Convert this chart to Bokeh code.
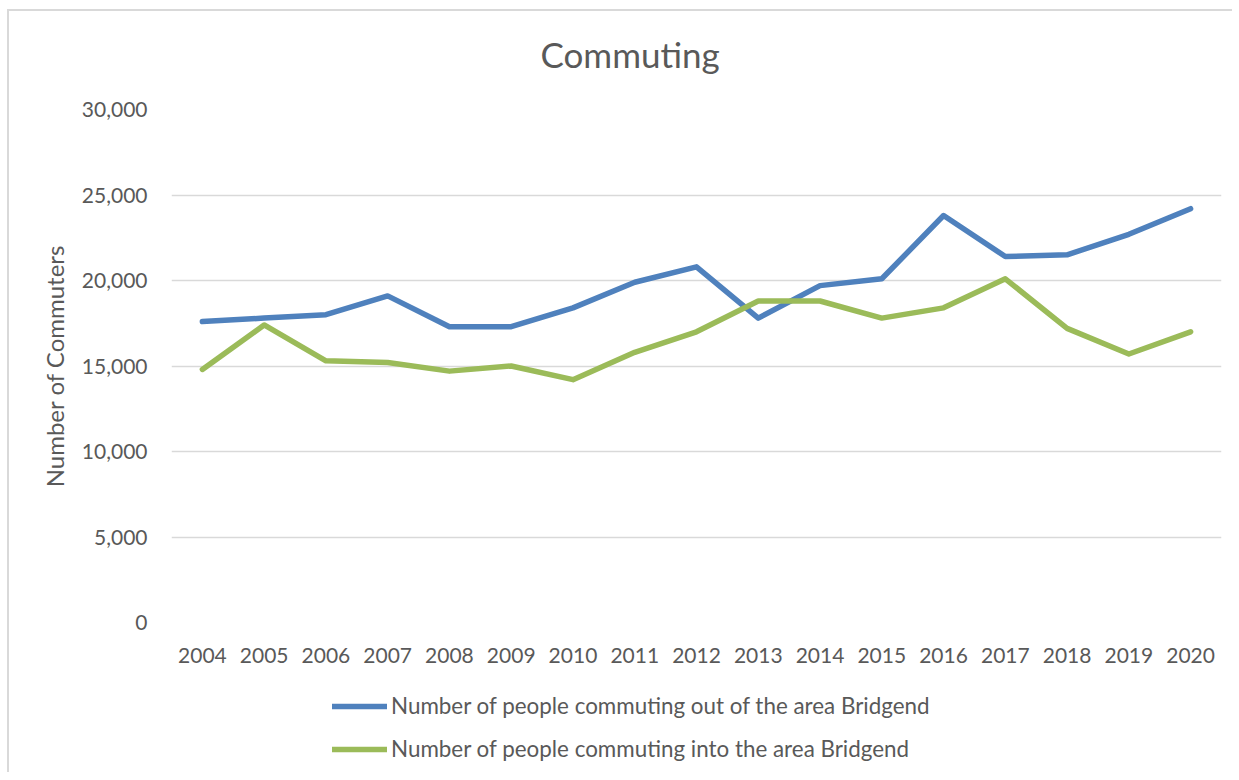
from bokeh.plotting import figure
from bokeh.layouts import column
from bokeh.models import (FactorRange, Range1d, FixedTicker, NumeralTickFormatter,
                          Legend, LegendItem, Title)
from bokeh.embed import file_html
from bokeh.resources import INLINE

years = [str(y) for y in range(2004, 2021)]
commuting_out = [17600, 17800, 18000, 19100, 17300, 17300, 18400, 19900, 20800,
                 17800, 19700, 20100, 23800, 21400, 21500, 22700, 24200]
commuting_in = [14800, 17400, 15300, 15200, 14700, 15000, 14200, 15800, 17000,
                18800, 18800, 17800, 18400, 20100, 17200, 15700, 17000]
y_ticks = [0, 5000, 10000, 15000, 20000, 25000, 30000]
series_names = ["Number of people commuting out of the area Bridgend",
                "Number of people commuting into the area Bridgend"]
series_colors = ["#4f81bd", "#9bbb59"]

FONT = "Lato"
TXT = "#595959"

p = figure(width=1223, height=671, x_range=FactorRange(factors=years),
           y_range=Range1d(0, 30000), output_backend="svg", toolbar_location=None,
           min_border_left=162, min_border_right=11, min_border_top=98,
           min_border_bottom=60)
p.outline_line_color = None
p.background_fill_color = "white"
p.border_fill_color = "white"

p.xgrid.grid_line_color = None
p.ygrid.grid_line_color = "#d9d9d9"
p.ygrid.grid_line_width = 1.3

p.yaxis.ticker = FixedTicker(ticks=y_ticks)
p.yaxis.formatter = NumeralTickFormatter(format="0,0")
for ax in (p.xaxis[0], p.yaxis[0]):
    ax.axis_line_color = None
    ax.major_tick_line_color = None
    ax.minor_tick_line_color = None
    ax.major_tick_out = 0
    ax.major_tick_in = 0
    ax.major_label_text_font = FONT
    ax.major_label_text_font_size = "21px"
    ax.major_label_text_color = TXT
p.yaxis.major_label_standoff = 24
p.xaxis.major_label_standoff = 25
p.yaxis.axis_label = "Number of Commuters"
p.yaxis.axis_label_text_font = FONT
p.yaxis.axis_label_text_font_size = "24px"
p.yaxis.axis_label_text_font_style = "normal"
p.yaxis.axis_label_text_color = TXT
p.yaxis.axis_label_standoff = 10

p.line(years, commuting_out, line_color=series_colors[0], line_width=5.5,
       line_cap="round", line_join="round")
p.line(years, commuting_in, line_color=series_colors[1], line_width=5.5,
       line_cap="round", line_join="round")

# thin spacer between plot area and title, then the title itself
spacer = Title(text=" ", text_font_size="1px", standoff=22)
p.add_layout(spacer, "above")
title = Title(text="Commuting", align="left", offset=369, standoff=20,
              text_font=FONT, text_font_size="35px", text_color=TXT,
              text_font_style="normal")
p.add_layout(title, "above")

# legend strip below the chart (same series, lines themselves kept out of view)
q = figure(width=1223, height=90, x_range=FactorRange(factors=years),
           y_range=Range1d(-2, -1), output_backend="svg", toolbar_location=None,
           min_border_left=0, min_border_right=0, min_border_top=0,
           min_border_bottom=0)
q.axis.visible = False
q.grid.visible = False
q.outline_line_color = None
q.background_fill_color = "white"
q.border_fill_color = "white"
q_out = q.line(years, commuting_out, line_color=series_colors[0], line_width=5.5,
               line_cap="round")
q_in = q.line(years, commuting_in, line_color=series_colors[1], line_width=5.5,
              line_cap="round")

legend = Legend(items=[
    LegendItem(label=series_names[0], renderers=[q_out]),
    LegendItem(label=series_names[1], renderers=[q_in]),
], location=(161, 10), orientation="vertical")
legend.padding = 0
legend.margin = 0
legend.border_line_color = None
legend.background_fill_alpha = 0
legend.glyph_width = 55
legend.glyph_height = 24
legend.label_height = 24
legend.label_standoff = 4
legend.spacing = 16
legend.label_text_font = FONT
legend.label_text_font_size = "22.4px"
legend.label_text_color = TXT
legend.label_text_baseline = "middle"
q.add_layout(legend, "center")

layout = column(p, q, spacing=0,
                styles={"margin-left": "7px", "margin-top": "9px",
                        "border-left": "2px solid #d9d9d9",
                        "border-top": "2px solid #d9d9d9"})

open("out.html", "w").write(file_html(layout, INLINE))
